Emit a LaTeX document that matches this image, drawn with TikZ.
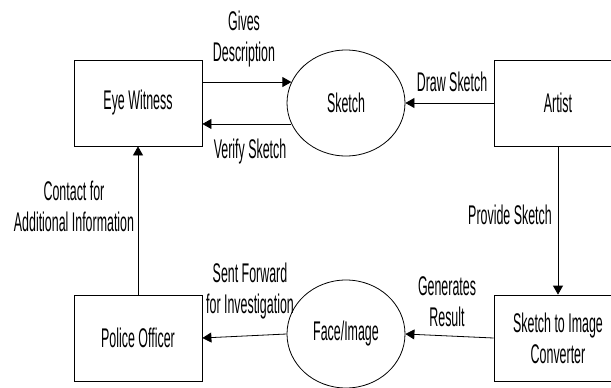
\documentclass[tikz,border=0pt]{standalone}
\usepackage{fontspec}
\setmainfont{Liberation Sans}[FakeStretch=0.46]
\usetikzlibrary{arrows.meta,shapes.geometric}

\tikzset{
    entity/.style={draw, thick, rectangle, minimum width=128pt, minimum height=86pt, align=center},
    process/.style={draw, thick, ellipse, minimum width=118pt, minimum height=106pt, inner sep=0pt},
    flow/.style={-{Triangle[length=9pt,width=10pt]}, thick},
    lbl/.style={align=center, inner sep=0pt}
}

\begin{document}
\begin{tikzpicture}[x=1pt, y=-1pt, line width=1.3pt,
        font=\fontsize{27}{31}\selectfont]
            \useasboundingbox (0,0) rectangle (611,388);

            \node[entity] (ew) at (138,103) {Eye Witness};
            \node[process] (sk) at (346,103) {Sketch};
            \node[entity] (ar) at (558,103) {Artist};

            \node[entity] (po) at (138,338) {Police Officer};
            \node[process, minimum height=108pt] (face) at (346,334) {Face/Image};
            \node[entity] (conv) at (558,338) {Sketch to Image\\Converter};

            % data flows
            \draw[flow] (sk.159 -| ew.east) -- (sk.159);
            \draw[flow] (sk.201) -- (sk.201 -| ew.east);
            \draw[flow] (ar.west) -- (sk.east);
            \draw[flow] (ar.south) -- (conv.north);
            \draw[flow] (conv.west) -- (face.east);
            \draw[flow] (face.west) -- (po.east);
            \draw[flow] (po.north) -- (ew.south);

            % flow labels
            \node[lbl] (give) at (244,39) {Gives\\Description};
            \node[lbl] (verify) at (250,152) {Verify Sketch};
            \node[lbl] (draw) at (452,82) {Draw Sketch};
            \node[lbl] (provide) at (510,215) {Provide Sketch};
            \node[lbl] (gen) at (447,302) {Generates\\Result};
            \node[lbl] (sent) at (250,291) {Sent Forward\\for Investigation};
            \node[lbl] (contact) at (74,206) {Contact for\\Additional Information};
        \end{tikzpicture}
\end{document}
